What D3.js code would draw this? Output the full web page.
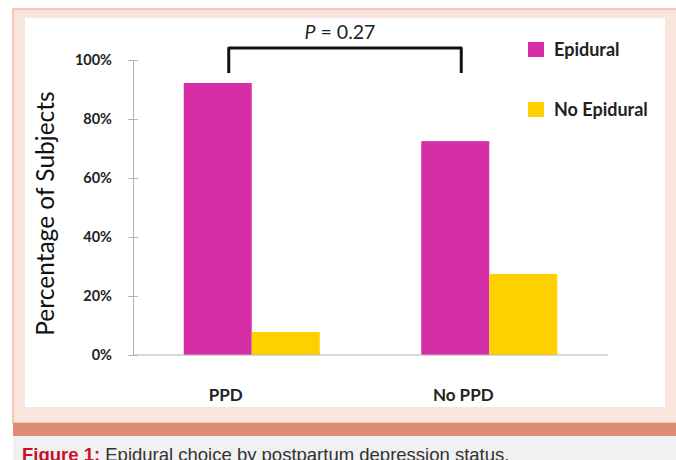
<!DOCTYPE html>
<html>
<head>
<meta charset="utf-8">
<script src="https://cdn.jsdelivr.net/npm/d3@7"></script>
<style>
  body { margin: 0; background: #ffffff; }
  svg { display: block; }
</style>
</head>
<body>
<div id="container"></div>
<script>
/* DATA */
const categories = ["PPD", "No PPD"];
const series = ["Epidural", "No Epidural"];
const epidural = [0.922, 0.725];
const noEpidural = [0.078, 0.275];
const yTicks = [0, 0.2, 0.4, 0.6, 0.8, 1.0];
const pText = "0.27";

/* CONSTANTS */
const W = 676, H = 460;
const colors = { "Epidural": "#d52ea6", "No Epidural": "#fed000" };
const chartFont = "Lato, 'Open Sans', sans-serif";

const rows = categories.map((c, i) => ({
  cat: c,
  values: [
    { key: "Epidural", value: epidural[i] },
    { key: "No Epidural", value: noEpidural[i] }
  ]
}));

const svg = d3.select("#container")
  .append("svg")
  .attr("width", W)
  .attr("height", H);

// page frame
svg.append("rect")
  .attr("x", 13).attr("y", 9)
  .attr("width", 700).attr("height", 414)
  .attr("fill", "#f8e5dc")
  .attr("stroke", "#efb9a6")
  .attr("stroke-width", 1.5);

svg.append("rect")
  .attr("x", 25).attr("y", 18)
  .attr("width", 640).attr("height", 389)
  .attr("fill", "#ffffff");

svg.append("rect")
  .attr("x", 13).attr("y", 423)
  .attr("width", 700).attr("height", 13)
  .attr("fill", "#df8c76");

svg.append("rect")
  .attr("x", 13).attr("y", 436)
  .attr("width", 700).attr("height", 30)
  .attr("fill", "#f1f1f1");

const caption = svg.append("text")
  .attr("x", 22).attr("y", 461)
  .style("font-family", "'Liberation Sans', Arial, sans-serif")
  .style("font-size", "18.5px");
caption.append("tspan")
  .attr("fill", "#c8102e")
  .style("font-weight", "bold")
  .text("Figure 1:");
caption.append("tspan")
  .attr("fill", "#333")
  .text(" Epidural choice by postpartum depression status.");

/* SCALES */
const y = d3.scaleLinear().domain([0, 1]).range([355, 60]);
const x0 = d3.scaleBand().domain(categories).range([133, 608]);
const groupW = 136;
const x1 = d3.scaleBand()
  .domain(series)
  .range([(x0.bandwidth() - groupW) / 2, (x0.bandwidth() + groupW) / 2]);

/* AXES */
const yAxis = svg.append("g")
  .attr("transform", "translate(133,0)")
  .call(d3.axisLeft(y).tickValues(yTicks).tickFormat(d3.format(".0%")).tickSizeOuter(0).tickSize(5).tickPadding(16));
yAxis.select(".domain").attr("stroke", "#b3b3b3");
yAxis.selectAll(".tick line").attr("x1", 5).attr("x2", -5).attr("stroke", "#b3b3b3");
yAxis.selectAll(".tick text")
  .style("font-family", chartFont)
  .style("font-size", "14.5px")
  .style("font-weight", "bold")
  .attr("fill", "#222");

svg.append("text")
  .attr("transform", `translate(54,${(y(0) + y(1)) / 2 + 6}) rotate(-90)`)
  .attr("text-anchor", "middle")
  .style("font-family", chartFont)
  .style("font-size", "24.5px")
  .attr("fill", "#111")
  .text("Percentage of Subjects");

/* BARS */
const groups = svg.selectAll("g.cat")
  .data(rows)
  .join("g")
  .attr("class", "cat")
  .attr("transform", d => `translate(${x0(d.cat)},0)`);

groups.selectAll("rect")
  .data(d => d.values)
  .join("rect")
  .attr("x", d => x1(d.key))
  .attr("y", d => y(d.value))
  .attr("width", x1.bandwidth())
  .attr("height", d => y(0) - y(d.value))
  .attr("fill", d => colors[d.key]);

// baseline
svg.append("line")
  .attr("x1", 133).attr("x2", 608)
  .attr("y1", y(0)).attr("y2", y(0))
  .attr("stroke", "#b3b3b3");

groups.append("text")
  .attr("x", x0.bandwidth() / 2 - 26)
  .attr("y", 401)
  .attr("text-anchor", "middle")
  .style("font-family", chartFont)
  .style("font-size", "17px")
  .style("font-weight", "bold")
  .attr("fill", "#222")
  .text(d => d.cat);

/* SIGNIFICANCE BRACKET */
const bx1 = x0("PPD") + x0.bandwidth() / 2 - 23;
const bx2 = x0("No PPD") + x0.bandwidth() / 2 - 28;
svg.append("path")
  .attr("d", `M${bx1},73 V48 H${bx2} V73`)
  .attr("fill", "none")
  .attr("stroke", "#111")
  .attr("stroke-width", 3)
  .attr("stroke-linejoin", "round");

const pLabel = svg.append("text")
  .attr("x", (bx1 + bx2) / 2 - 5)
  .attr("y", 39)
  .attr("text-anchor", "middle")
  .style("font-family", chartFont)
  .style("font-size", "19.5px")
  .attr("fill", "#222");
pLabel.append("tspan").style("font-style", "italic").text("P");
pLabel.append("tspan").text(" = " + pText);

/* LEGEND */
const legend = svg.selectAll("g.legend")
  .data(series)
  .join("g")
  .attr("class", "legend")
  .attr("transform", (d, i) => `translate(528,${42 + i * 60})`);

legend.append("rect")
  .attr("width", 16).attr("height", 15)
  .attr("fill", d => colors[d]);

legend.append("text")
  .attr("x", 26).attr("y", 14)
  .style("font-family", chartFont)
  .style("font-size", "18px")
  .style("font-weight", "bold")
  .attr("fill", "#222")
  .text(d => d);
</script>
</body>
</html>
